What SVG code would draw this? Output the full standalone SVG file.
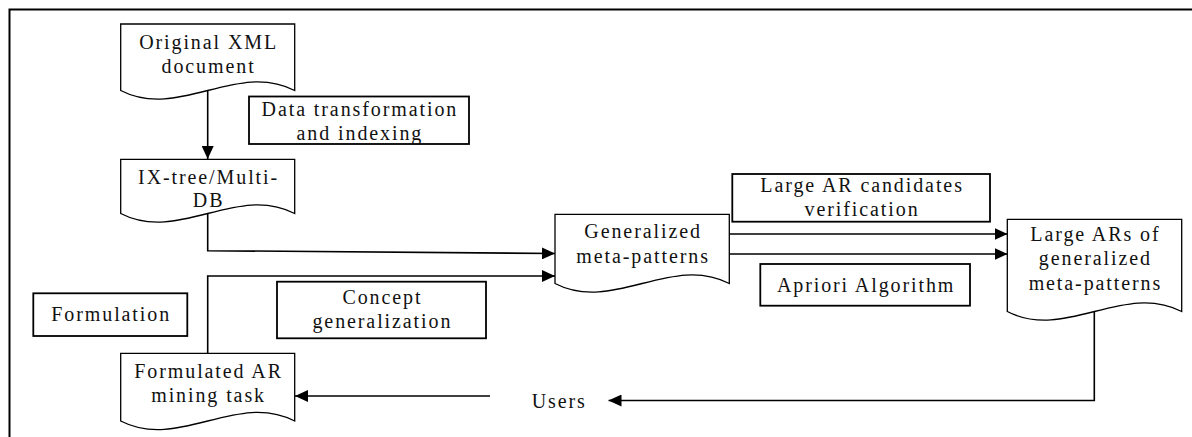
<svg xmlns="http://www.w3.org/2000/svg" width="1192" height="437" viewBox="0 0 1192 437">
<style>
  .shape{fill:#ffffff;stroke:#000000;stroke-width:1.3}
  .box{fill:#ffffff;stroke:#000000;stroke-width:1.8}
  .lbl{font-family:'Liberation Serif','DejaVu Serif',serif;font-size:20px;letter-spacing:1.9px;fill:#111111;text-anchor:middle}
  .conn{fill:none;stroke:#000000;stroke-width:1.6}
  .frame{fill:none;stroke:#000000;stroke-width:2}
</style>
<defs>
  <marker id="arr" markerWidth="13" markerHeight="12" refX="13" refY="6" orient="auto" markerUnits="userSpaceOnUse">
    <path d="M0,0 L13,6 L0,12 Z" fill="#000000"/>
  </marker>
</defs>
<rect width="1192" height="437" fill="#ffffff"/>
<path class="frame" d="M9.5,437 V9.5 H1192"/>

<g id="connectors">
  <path class="conn" d="M207.7,90.5 V159" marker-end="url(#arr)"/>
  <path class="conn" d="M207.7,213.5 V250.7 L555,253.5" marker-end="url(#arr)"/>
  <path class="conn" d="M207.7,353.5 V276 H555" marker-end="url(#arr)"/>
  <path class="conn" d="M729,234 H1007.5" marker-end="url(#arr)"/>
  <path class="conn" d="M729,254 H1007.5" marker-end="url(#arr)"/>
  <path class="conn" d="M1094.3,311.5 V400.5 H608.5" marker-end="url(#arr)"/>
  <path class="conn" d="M490,396 H295" marker-end="url(#arr)"/>
</g>

<g id="original-xml">
  <path class="shape" d="M120.7,24 H294.7 V90.5 C236.7,60.5 178.7,120.5 120.7,90.5 Z"/>
  <text class="lbl" font-family="Liberation Serif" x="208.6" y="48.5">Original XML</text>
  <text class="lbl" font-family="Liberation Serif" x="208.6" y="72.7">document</text>
</g>

<g id="data-transformation">
  <rect class="box" x="249" y="96.5" width="220" height="47.5"/>
  <text class="lbl" x="359.9" y="115.5">Data transformation</text>
  <text class="lbl" x="359.9" y="139.5">and indexing</text>
</g>

<g id="ix-tree">
  <path class="shape" d="M120.7,159.3 H294.7 V213.5 C236.7,183.5 178.7,243.5 120.7,213.5 Z"/>
  <text class="lbl" x="208.6" y="183.5">IX-tree/Multi-</text>
  <text class="lbl" x="208.6" y="206.5">DB</text>
</g>

<g id="formulation">
  <rect class="box" x="33.3" y="293.3" width="154" height="42.7"/>
  <text class="lbl" x="111.2" y="320.7">Formulation</text>
</g>

<g id="concept-generalization">
  <rect class="box" x="277" y="281.7" width="209" height="56.6"/>
  <text class="lbl" x="382.4" y="304">Concept</text>
  <text class="lbl" x="382.4" y="328.3">generalization</text>
</g>

<g id="formulated-ar">
  <path class="shape" d="M120.7,353.3 H294.7 V421 C236.7,391 178.7,451 120.7,421 Z"/>
  <text class="lbl" x="208.6" y="377.7">Formulated AR</text>
  <text class="lbl" x="208.6" y="401.7">mining task</text>
</g>

<g id="generalized">
  <path class="shape" d="M555,214.3 H729.3 V283.5 C671.2,253.5 613.1,313.5 555,283.5 Z"/>
  <text class="lbl" x="643.1" y="238.3">Generalized</text>
  <text class="lbl" x="643.1" y="262.8">meta-patterns</text>
</g>

<g id="large-ar-candidates">
  <rect class="box" x="732.3" y="174" width="257.7" height="47.7"/>
  <text class="lbl" x="862.1" y="192.3">Large AR candidates</text>
  <text class="lbl" x="862.1" y="216">verification</text>
</g>

<g id="apriori">
  <rect class="box" x="760.3" y="264" width="209.7" height="41.7"/>
  <text class="lbl" x="866.1" y="291.5">Apriori Algorithm</text>
</g>

<g id="large-ars">
  <path class="shape" d="M1007.3,219.3 H1181.7 V311.5 C1123.6,281.5 1065.4,341.5 1007.3,311.5 Z"/>
  <text class="lbl" x="1095.4" y="240.5">Large ARs of</text>
  <text class="lbl" x="1095.4" y="265">generalized</text>
  <text class="lbl" x="1095.4" y="289.8">meta-patterns</text>
</g>

<g id="users">
  <text class="lbl" x="531.7" y="408.3" style="text-anchor:start">Users</text>
</g>
</svg>
